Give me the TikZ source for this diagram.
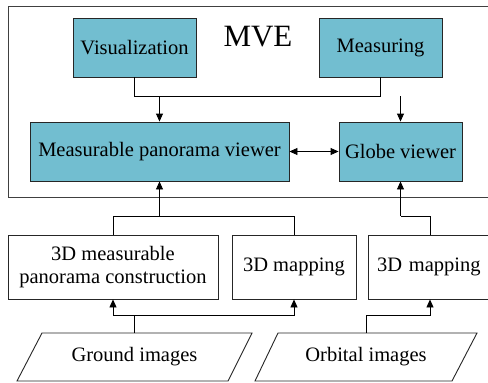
\documentclass[tikz,border=0pt]{standalone}
\usepackage{fontspec}
\setmainfont{Liberation Serif}
\newfontfamily\tnrfont{Liberation Serif}
\usetikzlibrary{arrows.meta}
\definecolor{boxfill}{RGB}{114,190,208}
\tikzset{
  every node/.style={font=\tnrfont\fontsize{20.5}{23}\selectfont},
  tbox/.style={draw=black!85, fill=boxfill, line width=0.9pt, inner sep=0pt},
  wbox/.style={draw=black!85, fill=white, line width=0.9pt, inner sep=0pt, align=center},
  conn/.style={line width=0.9pt, black},
  arr/.style={conn, -{Triangle[length=8pt,width=7pt]}},
  darr/.style={conn, {Triangle[length=8pt,width=7pt]}-{Triangle[length=8pt,width=7pt]}},
}
\begin{document}
\begin{tikzpicture}[x=1pt,y=-1pt]
\useasboundingbox (0,0) rectangle (488,383);
\fill[white] (0,0) rectangle (488,383);
% outer MVE frame
\draw[black!75, line width=0.9pt] (8,6) rectangle (495,197);
\node[font=\tnrfont\fontsize{31}{34}\selectfont] (mve) at (258,37) {MVE};
% upper boxes
\node[tbox, minimum width=123, minimum height=59] (vis) at (134.5,47.5) {Visualization};
\node[tbox, minimum width=123, minimum height=59] (meas) at (380.5,47.5) {Measuring};
\node[tbox, minimum width=259, minimum height=59] (mpv) at (159.5,151.5) {Measurable panorama viewer};
\node[tbox, minimum width=123, minimum height=59] (globe) at (400.5,151.5) {Globe viewer};
% lower boxes
\node[wbox, minimum width=210, minimum height=64] (mpc) at (113,267) {3D measurable\\panorama construction};
\node[wbox, minimum width=124, minimum height=64] (mapa) at (294,267) {3D mapping};
\node[wbox, minimum width=124, minimum height=64, text width=124, align=left] (mapb) at (430,267) {\hspace*{9pt}3D mapping};
% input parallelograms
\node (ground) at (134.5,357) {Ground images};
\node (orbital) at (366,357) {Orbital images};
\draw[black!85, line width=0.9pt] (42,333) coordinate (g1) -- (252,333) coordinate (g2) -- (228,381) coordinate (g3) -- (17,381) coordinate (g4) -- cycle;
\draw[black!85, line width=0.9pt] (278,333) coordinate (o1) -- (477,333) coordinate (o2) -- (452,381) coordinate (o3) -- (255,381) coordinate (o4) -- cycle;
% junction levels
\coordinate (jt) at (0,96);
\coordinate (jm) at (0,216);
\coordinate (jb) at (0,315);
\coordinate (gtop) at (134,333);
\coordinate (otop) at (366,333);
% top connectors
\draw[conn] (vis.south) |- (meas.south |- jt) -- (meas.south);
\draw[arr] (mpv.north |- jt) -- (mpv.north);
\draw[arr] (globe.north |- jt) -- (globe.north);
\draw[darr] (mpv.east) -- (globe.west);
% middle connectors
\draw[conn] (mpc.north) |- (mapa.north |- jm) -- (mapa.north);
\draw[arr] (mpv.south |- jm) -- (mpv.south);
\draw[conn] (mapb.north) |- (globe.south |- jm);
\draw[arr] (globe.south |- jm) -- (globe.south);
% bottom connectors
\draw[conn] (gtop) -- (gtop |- jb);
\draw[arr] (gtop |- jb) -| (mpc.south);
\draw[arr] (gtop |- jb) -| (mapa.south);
\draw[arr] (otop) |- (mapb.south |- jb) -- (mapb.south);
\end{tikzpicture}
\end{document}
